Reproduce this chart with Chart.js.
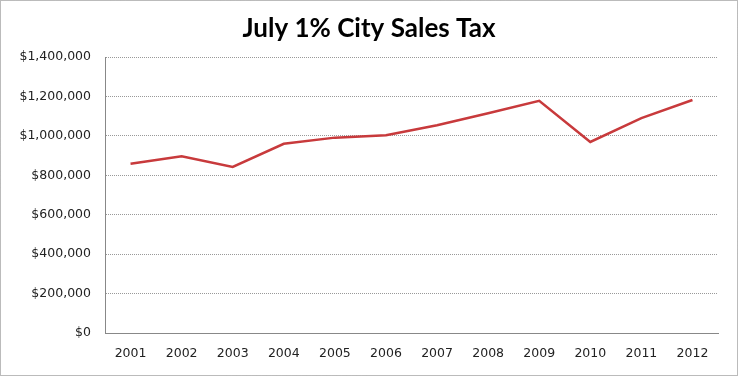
<!DOCTYPE html>
<html>
<head>
<meta charset="utf-8">
<script src="https://cdn.jsdelivr.net/npm/chart.js@4.4.0/dist/chart.umd.min.js"></script>
<style>
  html, body { margin: 0; padding: 0; background: #fff; }
  #wrap { width: 738px; height: 376px; position: relative; }
</style>
</head>
<body>
<div id="wrap"><canvas id="taxChart" width="738" height="376"></canvas></div>
<script>
// data
const years = ["2001", "2002", "2003", "2004", "2005", "2006", "2007", "2008", "2009", "2010", "2011", "2012"];
const salesTax = [859000, 896000, 842000, 960000, 991000, 1003000, 1054000, 1115000, 1178000, 969000, 1090000, 1182000];
const yTicks = [0, 200000, 400000, 600000, 800000, 1000000, 1200000, 1400000];

// dashed frame round the whole chart
const frame = {
  id: "frame",
  beforeDraw(chart) {
    const ctx = chart.ctx;
    ctx.save();
    ctx.fillStyle = "#fff";
    ctx.fillRect(0, 0, chart.width, chart.height);
    ctx.strokeStyle = "#777";
    ctx.lineWidth = 1;
    ctx.setLineDash([1, 1]);
    ctx.strokeRect(0.5, 0.5, chart.width - 1, chart.height - 1);
    ctx.restore();
  }
};

const ctx = document.getElementById("taxChart").getContext("2d");
new Chart(ctx, {
  type: "line",
  data: {
    labels: years,
    datasets: [
      {
        label: "July 1% City Sales Tax",
        data: salesTax,
        borderColor: "#C83A3C",
        borderWidth: 2.5,
        pointRadius: 0,
        tension: 0,
        fill: false,
      },
    ],
  },
  options: {
    responsive: false,
    animation: false,
    layout: { padding: 0 },
    plugins: {
      legend: { display: false },
      tooltip: { enabled: false },
      title: {
        display: true,
        text: "July 1% City Sales Tax",
        color: "#000",
        font: { family: "Lato", size: 26, weight: "bold", lineHeight: 1.2 },
        padding: { top: 13, bottom: 12.8 },
      },
    },
    scales: {
      x: {
        offset: true,
        grid: { display: false, drawTicks: false },
        border: { display: true, color: "#888", dash: [1, 1] },
        ticks: {
          color: "#222",
          font: { family: "DejaVu Sans", size: 12.5 },
          padding: 13,
          maxRotation: 0,
          autoSkip: false,
        },
        afterFit(scale) { scale.height = 43; },
      },
      y: {
        min: 0,
        max: 1400000,
        afterBuildTicks(scale) { scale.ticks = yTicks.map(v => ({ value: v })); },
        grid: { color: "#999", drawTicks: false, borderDash: [1, 1] },
        border: { display: true, color: "#888", dash: [1, 1] },
        ticks: {
          color: "#222",
          font: { family: "DejaVu Sans", size: 12.5 },
          padding: 14,
          callback: v => "$" + v.toLocaleString("en-US"),
        },
        afterFit(scale) { scale.width = 105; },
      },
      // empty right-hand gutter so the title stays centred on the whole chart
      gutter: {
        position: "right",
        min: 0,
        max: 1,
        grid: { display: false, drawTicks: false },
        border: { display: false },
        ticks: { display: false },
        afterFit(scale) { scale.width = 20; },
      },
    },
  },
  plugins: [frame],
});
</script>
</body>
</html>
